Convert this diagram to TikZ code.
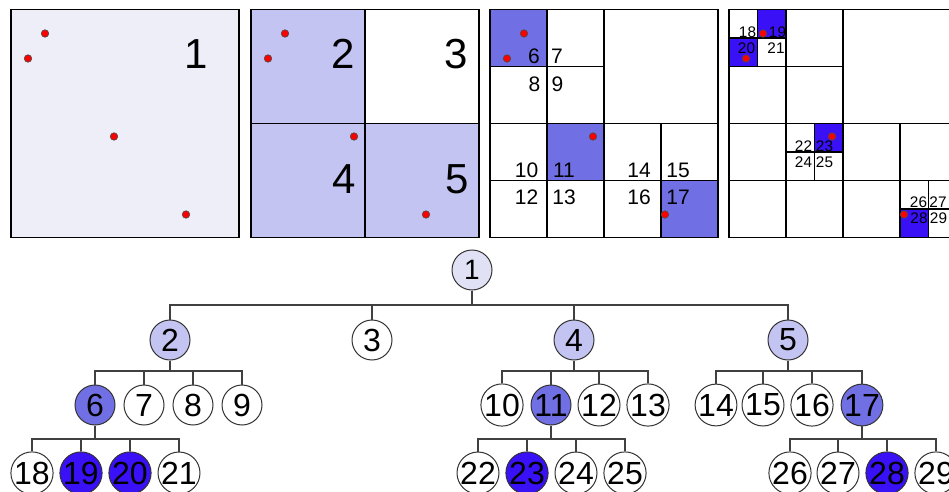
\documentclass[tikz,border=0pt]{standalone}
\usepackage{fontspec}
\setmainfont{Liberation Sans}
\usepackage{tikz}
\usetikzlibrary{positioning}
\definecolor{qtlevel0}{HTML}{EEEEF9}
\definecolor{qtroot}{HTML}{E1E1F6}
\definecolor{qtlevel1}{HTML}{C4C4F2}
\definecolor{qtlevel2}{HTML}{7070E4}
\definecolor{qtlevel3}{HTML}{3A10F6}

\begin{document}
\begin{tikzpicture}[x=0.75pt, y=-0.75pt,
    cell/.style={draw=black, line width=0.8pt},
    pt/.style={fill=red, draw=black!70, line width=0.5pt},
    biglbl/.style={anchor=base, inner sep=0pt, font=\fontsize{31.5}{32}\selectfont},
    midlbl/.style={anchor=base, inner sep=0pt, font=\fontsize{15.75}{16}\selectfont},
    smalllbl/.style={anchor=base, inner sep=0pt, font=\fontsize{11.5}{12}\selectfont},
    tnode/.style={circle, draw=black!80, line width=0.75pt, minimum size=30pt, inner sep=0pt, fill=white, font=\fontsize{24}{24}\selectfont},
    tline/.style={draw=black!75, line width=1pt}]
    \useasboundingbox (0,0) rectangle (949,492);

    % Panel 1: whole region
    \begin{scope}[shift={(11,9.5)}]
        \filldraw[cell, fill=qtlevel0] (0,0) rectangle (228,228);
        \node[biglbl] (q1) at (185,59) {1};
    \end{scope}

    % Panel 2: first split
    \begin{scope}[shift={(251,9.5)}]
        \fill[qtlevel1] (0,0) rectangle (114,114);
        \fill[qtlevel1] (0,114) rectangle (228,228);
        \draw[cell] (0,0) rectangle (228,228) (114,0) -- (114,228) (0,114) -- (228,114);
        \node[biglbl] (q2) at (92,59) {2};
        \node[biglbl] (q3) at (205,59) {3};
        \node[biglbl] (q4) at (93,184) {4};
        \node[biglbl] (q5) at (206,184) {5};
    \end{scope}

    % Panel 3: second split
    \begin{scope}[shift={(490,9.5)}]
        \fill[qtlevel2] (0,0) rectangle (57,57);
        \fill[qtlevel2] (57,114) rectangle (114,171);
        \fill[qtlevel2] (171,171) rectangle (228,228);
        \draw[cell] (0,0) rectangle (228,228) (114,0) -- (114,228) (0,114) -- (228,114)
            (57,0) -- (57,228) (0,57) -- (114,57) (0,171) -- (228,171) (171,114) -- (171,228);
        \node[midlbl] (q6) at (44,54) {6};
        \node[midlbl] (q7) at (67,54) {7};
        \node[midlbl] (q8) at (44.5,82) {8};
        \node[midlbl] (q9) at (67.5,82) {9};
        \node[midlbl] (q10) at (36.5,168) {10};
        \node[midlbl] (q11) at (74,168) {11};
        \node[midlbl] (q14) at (149,168) {14};
        \node[midlbl] (q15) at (188,168) {15};
        \node[midlbl] (q12) at (36.5,195) {12};
        \node[midlbl] (q13) at (74,195) {13};
        \node[midlbl] (q16) at (149,195) {16};
        \node[midlbl] (q17) at (188,195) {17};
    \end{scope}

    % Panel 4: third split
    \begin{scope}[shift={(729,9.5)}]
        \fill[qtlevel3] (28.5,0) rectangle (57,28.5);
        \fill[qtlevel3] (0,28.5) rectangle (28.5,57);
        \fill[qtlevel3] (85.5,114) rectangle (114,142.5);
        \fill[qtlevel3] (171,199.5) rectangle (199.5,228);
        \draw[cell] (0,0) rectangle (228,228) (114,0) -- (114,228) (0,114) -- (228,114)
            (57,0) -- (57,228) (0,57) -- (114,57) (0,171) -- (228,171) (171,114) -- (171,228)
            (28.5,0) -- (28.5,57) (0,28.5) -- (57,28.5)
            (85.5,114) -- (85.5,171) (57,142.5) -- (114,142.5)
            (199.5,171) -- (199.5,228) (171,199.5) -- (228,199.5);
        \node[smalllbl] (q18) at (18.5,28) {18};
        \node[smalllbl] (q19) at (48.5,28) {19};
        \node[smalllbl] (q20) at (17.5,44) {20};
        \node[smalllbl] (q21) at (47,44) {21};
        \node[smalllbl] (q22) at (74.5,142) {22};
        \node[smalllbl] (q23) at (95.5,142) {23};
        \node[smalllbl] (q24) at (74.5,158) {24};
        \node[smalllbl] (q25) at (95.5,158) {25};
        \node[smalllbl] (q26) at (189.5,198) {26};
        \node[smalllbl] (q27) at (209,198) {27};
        \node[smalllbl] (q28) at (190,214) {28};
        \node[smalllbl] (q29) at (209.5,214) {29};
    \end{scope}

    % Points, the same in every panel
    \foreach \ox in {11,251,490,729}
        \foreach \px/\py in {34/24,17/49,103/127,175/205}
            \filldraw[pt] (\ox+\px,9.5+\py) circle (2.8pt);

    % Tree
    \node[tnode, fill=qtroot, font=\fontsize{21}{21}\selectfont] (t1) at (472,270) {1};

    \node[tnode, fill=qtlevel1] (t2) at (170,340) {2};
    \node[tnode] (t3) at (372,340) {3};
    \node[tnode, fill=qtlevel1] (t4) at (574,340) {4};
    \node[tnode, fill=qtlevel1] (t5) at (788,340) {5};

    \node[tnode, fill=qtlevel2] (t6) at (95,405) {6};
    \node[tnode] (t7) at (144,405) {7};
    \node[tnode] (t8) at (193,405) {8};
    \node[tnode] (t9) at (242,405) {9};
    \node[tnode] (t10) at (502,405) {10};
    \node[tnode, fill=qtlevel2] (t11) at (551,405) {11};
    \node[tnode] (t12) at (599,405) {12};
    \node[tnode] (t13) at (648,405) {13};
    \node[tnode] (t14) at (716,405) {14};
    \node[tnode] (t15) at (763,405) {15};
    \node[tnode] (t16) at (812,405) {16};
    \node[tnode, fill=qtlevel2] (t17) at (862,405) {17};

    \node[tnode] (t18) at (32,473) {18};
    \node[tnode, fill=qtlevel3] (t19) at (81,473) {19};
    \node[tnode, fill=qtlevel3] (t20) at (130,473) {20};
    \node[tnode] (t21) at (179,473) {21};
    \node[tnode] (t22) at (478,473) {22};
    \node[tnode, fill=qtlevel3] (t23) at (527,473) {23};
    \node[tnode] (t24) at (576,473) {24};
    \node[tnode] (t25) at (625,473) {25};
    \node[tnode] (t26) at (790,473) {26};
    \node[tnode] (t27) at (838,473) {27};
    \node[tnode, fill=qtlevel3] (t28) at (887,473) {28};
    \node[tnode] (t29) at (936,473) {29};

    % Branches
    \coordinate (bus1) at (0,305);
    \coordinate (bus2) at (0,371);
    \coordinate (bus3) at (0,439);
    \foreach \c in {2,3,4,5}
        \draw[tline] (t1.south) -- (t1.south |- bus1) -| (t\c.north);
    \foreach \c in {6,7,8,9}
        \draw[tline] (t2.south) -- (t2.south |- bus2) -| (t\c.north);
    \foreach \c in {10,11,12,13}
        \draw[tline] (t4.south) -- (t4.south |- bus2) -| (t\c.north);
    \foreach \c in {14,15,16,17}
        \draw[tline] (t5.south) -- (t5.south |- bus2) -| (t\c.north);
    \foreach \c in {18,19,20,21}
        \draw[tline] (t6.south) -- (t6.south |- bus3) -| (t\c.north);
    \foreach \c in {22,23,24,25}
        \draw[tline] (t11.south) -- (t11.south |- bus3) -| (t\c.north);
    \foreach \c in {26,27,28,29}
        \draw[tline] (t17.south) -- (t17.south |- bus3) -| (t\c.north);
\end{tikzpicture}
\end{document}
